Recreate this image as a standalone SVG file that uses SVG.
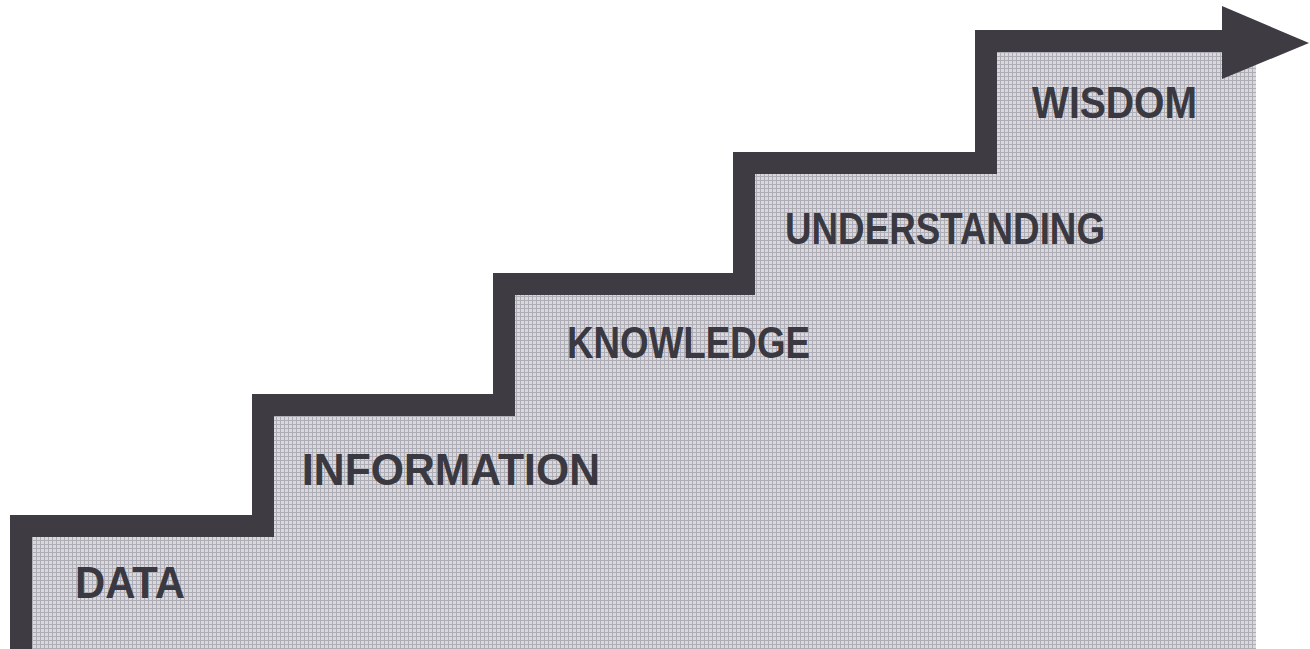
<svg xmlns="http://www.w3.org/2000/svg" width="1310" height="649" viewBox="0 0 1310 649">
  <defs>
    <pattern id="screen" x="0" y="0" width="4" height="4" patternUnits="userSpaceOnUse">
      <rect width="4" height="4" fill="#d9d8dd"/>
      <rect x="0" y="0" width="4" height="1" fill="#aeadb5"/>
      <rect x="0" y="0" width="1" height="4" fill="#aeadb5"/>
    </pattern>
    <style>
      .lbl { font-family: "Liberation Sans", Arial, sans-serif; font-weight: bold; font-size: 44px; fill: #3a3840; }
      .stair { fill: none; stroke: #3e3b42; stroke-width: 22; stroke-linejoin: miter; stroke-linecap: butt; }
      .head { fill: #3e3b42; }
    </style>
  </defs>
  <rect width="1310" height="649" fill="#ffffff"/>
  <g id="fill-area">
    <path d="M21,660 V526 H263 V405 H504 V284 H744 V163 H986 V41 H1256 V660 Z" fill="url(#screen)"/>
  </g>
  <g id="connectors">
    <path class="stair" d="M21,660 V526 H263 V405 H504 V284 H744 V163 H986 V41 H1226"/>
    <polygon class="head" points="1222,6 1309,43 1222,79"/>
  </g>
  <g id="node-data">
    <text class="lbl" x="75" y="598" textLength="110" lengthAdjust="spacingAndGlyphs">DATA</text>
  </g>
  <g id="node-information">
    <text class="lbl" x="302" y="485" textLength="298" lengthAdjust="spacingAndGlyphs">INFORMATION</text>
  </g>
  <g id="node-knowledge">
    <text class="lbl" x="567" y="358" textLength="243" lengthAdjust="spacingAndGlyphs">KNOWLEDGE</text>
  </g>
  <g id="node-understanding">
    <text class="lbl" x="785" y="244" textLength="320" lengthAdjust="spacingAndGlyphs">UNDERSTANDING</text>
  </g>
  <g id="node-wisdom">
    <text class="lbl" x="1032" y="118" textLength="165" lengthAdjust="spacingAndGlyphs">WISDOM</text>
  </g>
</svg>
